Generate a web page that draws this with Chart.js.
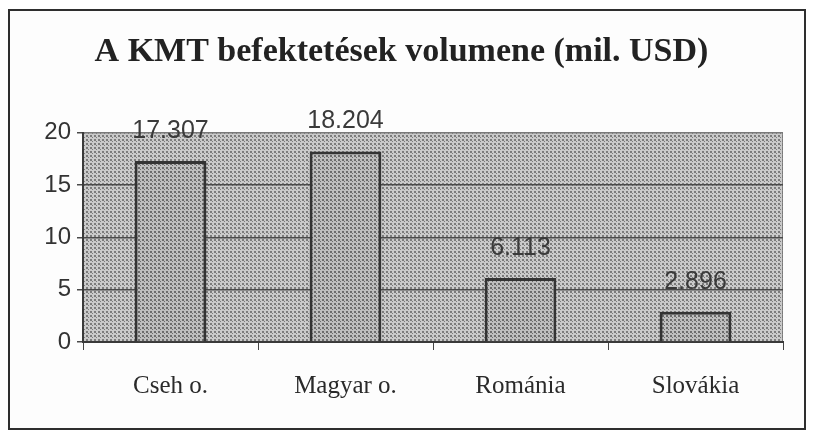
<!DOCTYPE html>
<html>
<head>
<meta charset="utf-8">
<script src="https://cdn.jsdelivr.net/npm/chart.js@4.4.1/dist/chart.umd.min.js"></script>
<style>
  html, body { margin: 0; padding: 0; background: #fff; }
  #frame {
    position: absolute; left: 8px; top: 9px;
    width: 794px; height: 417px;
    border: 2px solid #2e2e2e;
    background: #fdfdfd;
  }
  #frame canvas { display: block; }
</style>
</head>
<body>
<div id="frame"><canvas id="myChart" width="794" height="417"></canvas></div>
<script>
// chart data
const categories = ['Cseh o.', 'Magyar o.', 'Románia', 'Slovákia'];
const investment = [17.307, 18.204, 6.113, 2.896];
const valueLabels = ['17.307', '18.204', '6.113', '2.896'];
const yTicks = [0, 5, 10, 15, 20];

// dotted halftone patterns like the scanned original
function makePattern(bg, dot) {
  const c = document.createElement('canvas');
  c.width = 4; c.height = 4;
  const g = c.getContext('2d');
  g.fillStyle = bg;
  g.fillRect(0, 0, 4, 4);
  g.fillStyle = dot;
  g.fillRect(0, 0, 2, 2);
  g.fillRect(2, 2, 1, 1);
  return g.createPattern(c, 'repeat');
}

const ctx = document.getElementById('myChart').getContext('2d');
const plotFill = makePattern('#cacaca', '#7c7c7c');
const barFill = makePattern('#bebebe', '#6c6c6c');

// paints the plot area background
const plotBackground = {
  id: 'plotBackground',
  beforeDraw(chart) {
    const a = chart.chartArea;
    const c = chart.ctx;
    c.save();
    c.fillStyle = plotFill;
    c.fillRect(a.left, a.top, a.right - a.left, a.bottom - a.top);
    c.strokeStyle = '#7a7a7a';
    c.lineWidth = 1;
    c.setLineDash([2, 2]);
    c.beginPath();
    c.moveTo(a.right - 0.5, a.top);
    c.lineTo(a.right - 0.5, a.bottom);
    c.stroke();
    c.restore();
  }
};

// value labels above the bars
const barValues = {
  id: 'barValues',
  afterDatasetsDraw(chart) {
    const c = chart.ctx;
    const meta = chart.getDatasetMeta(0);
    c.save();
    c.font = '25px "Liberation Sans", Arial, sans-serif';
    c.fillStyle = '#3a3a3a';
    c.textAlign = 'center';
    c.textBaseline = 'middle';
    meta.data.forEach((bar, i) => {
      c.fillText(valueLabels[i], bar.x, bar.y - 30);
    });
    c.restore();
  }
};

const myChart = new Chart(ctx, {
  type: 'bar',
  data: {
    labels: categories,
    datasets: [{
      label: 'mil. USD',
      data: investment,
      backgroundColor: barFill,
      borderColor: '#333',
      borderWidth: 3,
      borderSkipped: 'bottom',
      categoryPercentage: 0.82,
      barPercentage: 0.5
    }]
  },
  options: {
    responsive: false,
    animation: false,
    events: [],
    layout: { padding: { left: 10, right: 21, top: 0, bottom: 0 } },
    plugins: {
      legend: { display: false },
      tooltip: { enabled: false },
      title: {
        display: true,
        text: 'A KMT befektetések volumene (mil. USD)',
        color: '#222',
        font: { family: '"Liberation Serif", "Times New Roman", serif', size: 34, weight: 'bold' },
        padding: { top: 21, bottom: 60 }
      }
    },
    scales: {
      x: {
        afterFit(scale) { scale.height = 86; },
        grid: { drawOnChartArea: false, drawTicks: true, tickLength: 8, color: '#444', offset: true },
        border: { color: '#3a3a3a', width: 2 },
        ticks: {
          color: '#2a2a2a',
          padding: 21,
          font: { family: '"Liberation Serif", "Times New Roman", serif', size: 25 }
        }
      },
      y: {
        min: 0,
        max: 20,
        afterFit(scale) { scale.width = 63; },
        afterBuildTicks(scale) { scale.ticks = yTicks.map(v => ({ value: v })); },
        grid: {
          color: ctx => ctx.tick && ctx.tick.value === 20 ? '#7a7a7a' : '#4a4a4a',
          lineWidth: 1.5,
          tickLength: 6,
          tickColor: '#4a4a4a'
        },
        border: { color: '#3a3a3a', width: 2 },
        ticks: {
          color: '#333',
          padding: 6,
          font: { family: '"Liberation Sans", Arial, sans-serif', size: 24 }
        }
      }
    }
  },
  plugins: [plotBackground, barValues]
});
</script>
</body>
</html>
